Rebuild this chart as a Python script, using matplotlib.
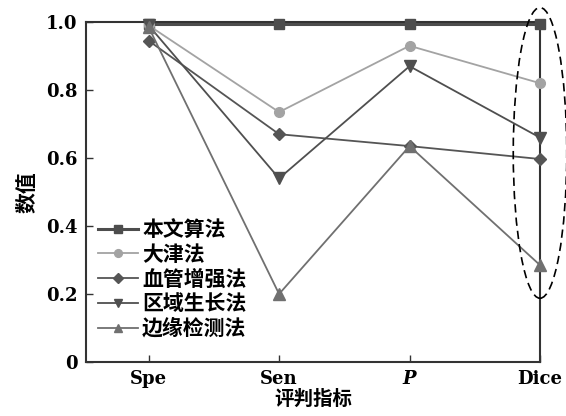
import matplotlib
matplotlib.use("Agg")
import matplotlib.pyplot as plt
from matplotlib.patches import Ellipse

# data
metrics = ["Spe", "Sen", "P", "Dice"]
methods = ["本文算法", "大津法", "血管增强法", "区域生长法", "边缘检测法"]
ours = [0.995, 0.995, 0.995, 0.995]
otsu = [0.99, 0.735, 0.93, 0.82]
vessel = [0.945, 0.67, 0.635, 0.597]
region = [0.99, 0.54, 0.87, 0.66]
edge = [0.985, 0.2, 0.635, 0.285]

series = [ours, otsu, vessel, region, edge]
markers = ["s", "o", "D", "v", "^"]
colors = ["#4d4d4d", "#a3a3a3", "#555555", "#4f4f4f", "#707070"]
widths = [2.2, 1.3, 1.3, 1.3, 1.3]
msizes = [7, 7, 6, 8, 8]

cjk = ["Noto Sans CJK SC", "DejaVu Sans"]
serif = "DejaVu Serif"

fig = plt.figure(figsize=(5.66, 4.16), dpi=100)
ax = fig.add_axes([86 / 566, 54 / 416, 454 / 566, 340 / 416])

x = list(range(len(metrics)))
for vals, name, m, c, lw, ms in zip(series, methods, markers, colors, widths, msizes):
    ax.plot(x, vals, marker=m, color=c, lw=lw, ms=ms, label=name, clip_on=False, zorder=3)

ax.set_xlim(-0.48, 3.0)
ax.set_ylim(0, 1.0)
ax.set_xticks(x)
ax.set_xticklabels(metrics)
ax.set_yticks([0, 0.2, 0.4, 0.6, 0.8, 1.0])
ax.set_yticklabels(["0", "0.2", "0.4", "0.6", "0.8", "1.0"])
ax.tick_params(direction="in", length=5, width=1, colors="#333333", labelcolor="black",
               labelsize=13, pad=6)
for lab in ax.get_xticklabels() + ax.get_yticklabels():
    lab.set_fontfamily(serif)
    lab.set_fontweight("bold")
ax.get_xticklabels()[2].set_fontstyle("italic")
for s in ax.spines.values():
    s.set_color("#333333")
    s.set_linewidth(1.5)

ax.set_xlabel("评判指标", family=cjk, fontsize=14, fontweight="bold", labelpad=1)
ax.set_ylabel("数值", family=cjk, fontsize=15, fontweight="bold", labelpad=6)

leg = ax.legend(loc="lower left", bbox_to_anchor=(-0.005, 0.025), frameon=False,
                prop={"family": cjk, "size": 15, "weight": "bold"}, markerscale=0.8,
                handlelength=1.9, handletextpad=0.2, labelspacing=0.18, borderaxespad=0.3)

ell = Ellipse((3.0, 0.615), 0.41, 0.855, fill=False, ls=(0, (5, 3)), lw=1.2,
              color="black", clip_on=False, zorder=4)
ax.add_patch(ell)

fig.savefig("out.png", dpi=100)
